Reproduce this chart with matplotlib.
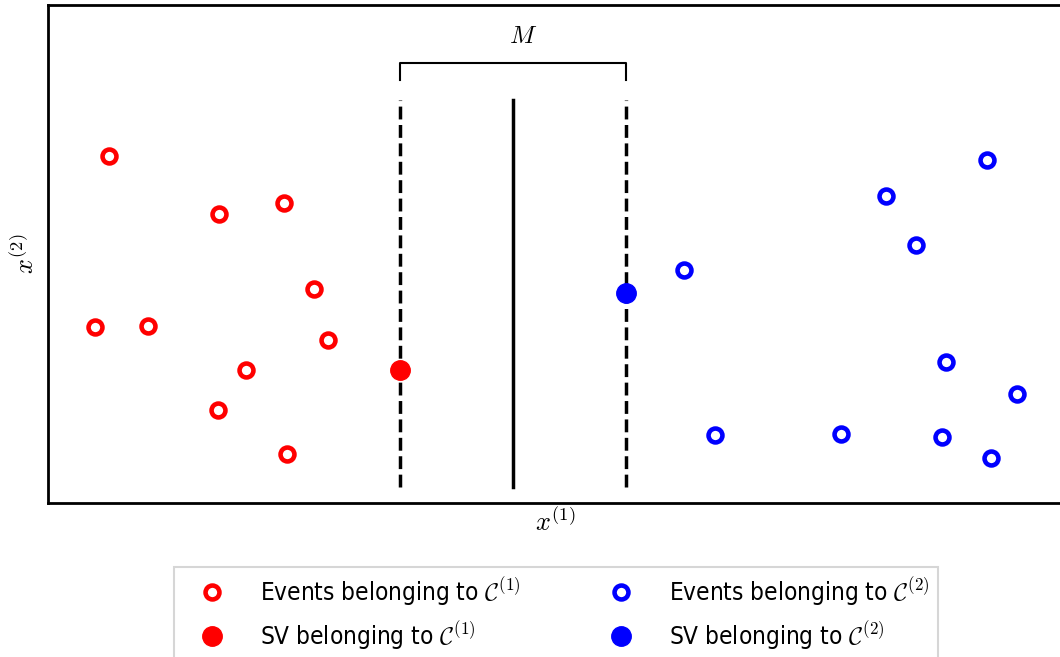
import matplotlib
matplotlib.use("Agg")
import matplotlib.pyplot as plt
from matplotlib import font_manager

plt.rcParams['mathtext.fontset'] = 'cm'
plt.rcParams['font.family'] = ['DejaVu Sans']

# data
red_x = [0.61, 1.71, 2.36, 2.66, 0.47, 1.00, 2.80, 1.98, 1.70, 2.39]
red_y = [3.47, 2.89, 3.00, 2.14, 1.76, 1.77, 1.63, 1.33, 0.93, 0.49]
red_sv_x = [3.52]
red_sv_y = [1.33]
blue_x = [9.39, 8.38, 8.68, 6.36, 8.98, 9.69, 6.67, 7.93, 8.94, 9.43]
blue_y = [3.43, 3.07, 2.58, 2.33, 1.41, 1.09, 0.68, 0.69, 0.66, 0.45]
blue_sv_x = [5.78]
blue_sv_y = [2.10]
margin_left = 3.52
margin_right = 5.78
boundary = 4.65
line_bottom, line_top = 0.16, 4.03
bracket_y, bracket_bottom = 4.40, 4.23

W, H = 1060, 657
fig = plt.figure(figsize=(W/100, H/100), dpi=100)
ax = fig.add_axes([48/W, 1 - 503/H, 1024/W, 498/H])
ax.set_xlim(0, 10.24)
ax.set_ylim(0, 4.98)

ax.plot(red_x, red_y, 'o', color='red', mfc='white', ms=10, mew=3.3, ls='none',
        label=r'Events belonging to $\mathcal{C}^{(1)}$')
ax.plot(red_sv_x, red_sv_y, 'o', color='red', ms=14, ls='none',
        label=r'SV belonging to $\mathcal{C}^{(1)}$')
ax.plot(blue_x, blue_y, 'o', color='blue', mfc='white', ms=10, mew=3.3, ls='none',
        label=r'Events belonging to $\mathcal{C}^{(2)}$')
ax.plot(blue_sv_x, blue_sv_y, 'o', color='blue', ms=14, ls='none',
        label=r'SV belonging to $\mathcal{C}^{(2)}$')

ax.plot([margin_left, margin_left], [line_bottom, line_top], 'k--', lw=2.5, zorder=1)
ax.plot([margin_right, margin_right], [line_bottom, line_top], 'k--', lw=2.5, zorder=1)
ax.plot([boundary, boundary], [line_bottom, line_top], 'k-', lw=2.5, zorder=1)
ax.plot([margin_left, margin_left, margin_right, margin_right],
        [bracket_bottom, bracket_y, bracket_y, bracket_bottom], 'k-', lw=1.5)
ax.text((margin_left + margin_right) / 2 + 0.1, 4.55, r'$M$', ha='center', va='bottom', fontsize=18)

ax.set_xticks([])
ax.set_yticks([])
for s in ax.spines.values():
    s.set_linewidth(2)
ax.set_xlabel(r'$x^{(1)}$', fontsize=19)
ax.xaxis.set_label_coords((555 - 48) / 1024, -0.012)
ax.xaxis.label.set_va('top')
ax.set_ylabel(r'$x^{(2)}$', fontsize=19, labelpad=6)

handles, labels = ax.get_legend_handles_labels()
prop = font_manager.FontProperties(family='DejaVu Sans', stretch='condensed', size=17.5)
leg = fig.legend(handles, labels, ncol=2, loc='upper center',
                 bbox_to_anchor=(556/W, 1 - 567/H), prop=prop, borderaxespad=0,
                 frameon=True, fancybox=False, edgecolor='#cccccc',
                 handlelength=2.4, columnspacing=2.93, handletextpad=0.78,
                 borderpad=0.36, labelspacing=0.44)
leg.get_frame().set_linewidth(1.5)

fig.savefig('out.png', dpi=100)
